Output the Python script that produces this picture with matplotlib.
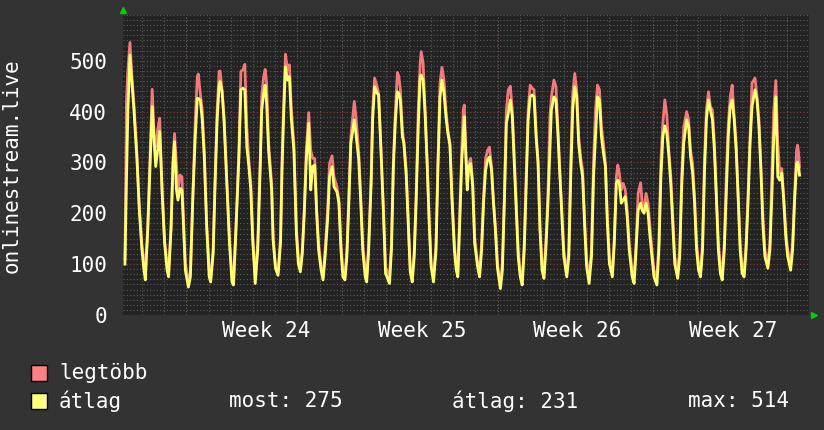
import matplotlib.pyplot as plt
from matplotlib.patches import Rectangle
from matplotlib.ticker import MultipleLocator

plt.rcParams['font.family'] = ['DejaVu Sans Mono', 'DejaVu Sans']

# hours since the left edge of the graph
hours = [2.1, 3.7, 5.3, 7.5, 9.6, 11.8, 15.0, 17.6, 20.3, 22.4, 24.1, 26.7, 29.4, 31.5, 33.7, 35.3,
         37.4, 39.6, 42.2, 44.9, 47.6, 49.2, 51.8, 54.0, 55.6, 57.7, 59.3, 61.5, 63.6, 65.2, 67.3, 70.6,
         72.7, 75.4, 78.0, 80.2, 81.2, 83.4, 85.5, 87.7, 90.3, 93.0, 94.6, 97.3, 99.4, 101.6, 103.7, 104.8,
         106.9, 109.0, 112.2, 114.9, 117.6, 119.2, 121.9, 125.1, 127.2, 129.3, 131.5, 133.6, 135.8, 137.9, 140.0, 142.7,
         145.4, 148.1, 149.7, 151.8, 153.4, 155.0, 157.1, 160.4, 162.0, 164.6, 167.3, 170.0, 171.6, 173.2, 175.3, 177.5,
         179.6, 181.7, 184.4, 187.1, 189.2, 191.4, 193.5, 195.6, 197.8, 200.4, 202.6, 204.7, 206.9, 209.0, 211.1, 213.8,
         215.9, 218.1, 220.8, 222.9, 225.6, 227.7, 230.9, 233.0, 235.2, 237.3, 239.5, 241.6, 243.7, 245.9, 249.6, 251.7,
         254.4, 256.6, 258.7, 261.4, 263.0, 265.1, 267.8, 269.4, 271.5, 274.2, 275.8, 277.9, 281.1, 283.3, 287.6, 289.7,
         291.8, 294.0, 296.1, 297.7, 299.3, 301.5, 303.1, 305.7, 307.9, 310.0, 312.1, 314.3, 316.4, 318.6, 320.7, 321.8,
         323.9, 326.0, 328.2, 330.3, 332.5, 335.1, 337.8, 339.9, 342.1, 344.2, 346.4, 348.5, 350.6, 352.8, 354.9, 357.6,
         359.7, 361.3, 363.5, 365.6, 367.2, 368.3, 369.9, 371.5, 373.1, 375.2, 377.4, 379.5, 382.7, 384.8, 387.0, 389.1,
         391.3, 393.4, 395.5, 397.7, 399.8, 401.9, 404.1, 407.3, 409.4, 411.6, 413.7, 415.8, 418.0, 420.1, 422.3, 424.4,
         426.5, 428.7, 430.8, 433.0, 435.1, 437.2, 439.4, 441.5, 443.6, 445.8, 447.9, 450.0, 452.2, 454.3, 456.5, 458.6,
         460.7, 462.3, 465.0, 467.2, 469.3, 471.4, 473.6, 475.7, 478.9, 481.1, 483.2, 485.3, 487.5, 489.6, 491.7, 493.9,
         496.0, 498.2, 500.3, 503.0, 505.6, 507.8, 509.9, 512.1, 514.2, 516.3, 518.5, 520.6, 522.7, 524.9, 528.1, 530.2,
         532.4, 534.0, 535.6, 537.7, 539.8, 542.0, 544.1, 546.3, 549.5, 551.6, 553.7, 555.9, 558.6, 560.2, 562.3, 564.4,
         566.6, 568.7, 570.8, 573.0, 576.2, 578.3, 580.5, 582.6, 584.7, 586.9, 589.0, 591.2, 593.3, 595.4, 598.6, 600.8,
         602.9, 605.1, 608.3, 610.4, 612.5, 614.7, 616.8, 619.0, 621.1, 623.2, 625.4, 627.5, 629.6, 631.8, 633.9, 636.1,
         638.2, 640.3, 642.5, 644.6, 646.7, 648.9, 651.0, 653.2, 655.3, 657.4, 659.6, 661.7, 663.8, 666.0, 668.1, 670.3,
         672.4, 674.5, 676.7, 678.8, 682.0, 684.2, 686.3, 688.4, 690.6, 692.7, 695.9, 698.1, 700.2, 702.3, 704.5, 706.6,
         708.7, 710.9, 713.0, 715.2, 717.3, 720.5, 722.6, 724.8, 726.9, 728.0, 729.1, 730.1]

legtobb = [110, 420, 482, 536, 469, 416, 318, 213, 141, 108, 82, 174, 324, 444, 351, 331,
           364, 387, 246, 147, 101, 85, 174, 305, 357, 292, 246, 275, 272, 193, 101, 69,
           82, 239, 384, 469, 474, 436, 403, 324, 180, 88, 72, 128, 272, 403, 479, 480,
           443, 390, 259, 154, 75, 62, 174, 324, 479, 482, 493, 370, 305, 259, 154, 78,
           141, 305, 429, 469, 483, 456, 338, 259, 154, 95, 82, 154, 305, 403, 513, 482,
           492, 403, 338, 174, 115, 92, 128, 206, 324, 398, 324, 308, 308, 206, 141, 95,
           75, 128, 206, 298, 313, 272, 252, 226, 141, 88, 75, 128, 233, 351, 420, 384,
           318, 233, 141, 88, 75, 141, 272, 403, 466, 449, 436, 351, 206, 95, 75, 141,
           305, 403, 477, 469, 443, 364, 341, 285, 180, 88, 75, 128, 239, 403, 495, 518,
           495, 403, 305, 193, 101, 75, 141, 305, 456, 487, 462, 403, 364, 338, 239, 141,
           95, 82, 206, 324, 403, 413, 324, 259, 298, 308, 259, 154, 101, 82, 141, 233,
           308, 324, 330, 292, 226, 174, 101, 62, 101, 239, 403, 443, 450, 403, 311, 220,
           128, 82, 69, 141, 272, 403, 452, 446, 443, 357, 305, 174, 101, 82, 150, 239,
           390, 429, 462, 449, 370, 285, 206, 128, 82, 128, 305, 436, 475, 443, 351, 311,
           285, 187, 108, 75, 128, 305, 403, 452, 443, 370, 338, 298, 193, 115, 82, 154,
           272, 295, 279, 246, 259, 246, 206, 141, 88, 75, 141, 239, 260, 220, 206, 239,
           220, 174, 128, 88, 75, 141, 305, 377, 423, 393, 324, 272, 193, 115, 88, 128,
           272, 370, 400, 384, 324, 298, 233, 141, 101, 82, 141, 305, 403, 439, 410, 403,
           338, 239, 141, 101, 82, 141, 272, 377, 429, 452, 390, 338, 239, 141, 95, 88,
           141, 239, 351, 456, 466, 429, 384, 292, 193, 128, 101, 141, 272, 403, 461, 338,
           279, 288, 233, 167, 128, 101, 141, 239, 324, 334, 318, 292]

atlag = [100, 260, 403, 511, 459, 403, 308, 206, 131, 92, 69, 167, 305, 410, 338, 292,
         324, 361, 242, 141, 88, 75, 167, 298, 341, 246, 226, 249, 246, 180, 88, 55,
         75, 233, 351, 426, 426, 423, 384, 311, 174, 75, 65, 121, 259, 384, 449, 459,
         439, 384, 252, 141, 65, 59, 167, 311, 443, 446, 443, 331, 292, 246, 147, 62,
         128, 292, 403, 436, 452, 416, 324, 246, 147, 92, 78, 141, 285, 384, 488, 462,
         469, 384, 324, 160, 101, 85, 121, 200, 305, 377, 246, 292, 295, 200, 128, 88,
         69, 115, 187, 272, 292, 252, 242, 220, 128, 75, 69, 115, 220, 338, 384, 351,
         305, 220, 128, 75, 65, 128, 259, 384, 449, 436, 433, 344, 200, 82, 62, 128,
         292, 384, 439, 436, 423, 351, 338, 272, 174, 85, 65, 115, 226, 370, 469, 472,
         462, 397, 298, 187, 95, 65, 128, 292, 429, 462, 436, 390, 357, 334, 233, 128,
         88, 75, 187, 305, 351, 390, 318, 246, 292, 298, 252, 141, 95, 75, 128, 220,
         285, 305, 311, 285, 220, 167, 92, 52, 88, 226, 377, 397, 423, 390, 298, 206,
         115, 75, 59, 128, 259, 384, 429, 433, 429, 351, 298, 167, 88, 72, 135, 220,
         324, 403, 429, 423, 357, 279, 193, 115, 75, 115, 272, 403, 449, 429, 338, 298,
         272, 174, 95, 62, 115, 272, 351, 429, 423, 351, 318, 292, 180, 101, 75, 141,
         259, 265, 259, 220, 226, 233, 193, 128, 75, 62, 128, 206, 220, 206, 200, 220,
         200, 154, 115, 75, 59, 128, 272, 351, 372, 357, 314, 255, 180, 101, 72, 115,
         252, 338, 384, 370, 311, 279, 220, 128, 88, 75, 128, 279, 384, 423, 403, 384,
         324, 233, 128, 82, 69, 128, 239, 351, 410, 423, 384, 324, 233, 128, 82, 75,
         128, 220, 338, 410, 443, 423, 370, 285, 174, 115, 92, 128, 233, 351, 429, 272,
         265, 279, 226, 154, 115, 88, 128, 226, 298, 301, 292, 275]

week_labels = ['Week 24', 'Week 25', 'Week 26', 'Week 27']
week_starts = [68.4, 236.4, 404.4, 572.4]
first_midnight = 20.3
ylabel = 'onlinestream.live'
stat_most = 275
stat_atlag = 231
stat_max = 514

W, H = 824, 430
fig = plt.figure(figsize=(W / 100, H / 100), dpi=100, facecolor='#333333')
ax = fig.add_axes([123 / W, 1 - 315 / H, 686 / W, 300 / H])
ax.set_facecolor('#232323')
ax.set_xlim(0, 733.3)
ax.set_ylim(0, 590)

ax.yaxis.set_major_locator(MultipleLocator(100))
ax.yaxis.set_minor_locator(MultipleLocator(10))
ax.set_xticks(week_starts)
ax.set_xticks([first_midnight + 24 * k for k in range(31)], minor=True)
ax.set_xticklabels([])
ax.grid(which='minor', color='#5c5c5c', linestyle=(0, (1, 2)), linewidth=0.8)
ax.grid(which='major', color='#8c3c3c', linestyle=(0, (1, 2)), linewidth=0.8)
ax.set_axisbelow(True)
ax.tick_params(which='both', length=0)
ax.tick_params(axis='y', labelcolor='white', labelsize=15, pad=11.5)
for s in ax.spines.values():
    s.set_visible(False)

ax.plot(hours, legtobb, color='#f27a7a', lw=2.0)
ax.plot(hours, atlag, color='#ffff70', lw=2.0)

tr = ax.get_xaxis_transform()
for ws, lab in zip(week_starts, week_labels):
    ax.text(ws + 86, -0.053, lab, transform=tr, ha='center', va='center',
            color='white', fontsize=15)

# rrdtool style arrows
ax.plot([0], [1 + 5 / 300], marker='^', color='#00cc00', ms=5,
        transform=ax.transAxes, clip_on=False)
ax.plot([1 + 5 / 686], [0], marker='>', color='#00cc00', ms=5,
        transform=ax.transAxes, clip_on=False)

fig.text(12 / W, 1 - 166 / H, ylabel, rotation=90, ha='center', va='center',
         color='white', fontsize=15)

# legend
for y, col, name in [(373, '#ff8080', 'legtöbb'), (401, '#ffff80', 'átlag')]:
    fig.patches.append(Rectangle((31 / W, 1 - (y + 8) / H), 16 / W, 16 / H, facecolor=col,
                                 edgecolor='black', lw=1, transform=fig.transFigure))
    fig.text(59 / W, 1 - y / H, name, color='white', fontsize=15, va='center')

fig.text(229 / W, 1 - 401 / H, f'most: {stat_most}', color='white', fontsize=15, va='center')
fig.text(452 / W, 1 - 401 / H, f'átlag: {stat_atlag}', color='white', fontsize=15, va='center')
fig.text(688 / W, 1 - 401 / H, f'max: {stat_max}', color='white', fontsize=15, va='center')

fig.savefig('out.png', dpi=100, facecolor=fig.get_facecolor())
